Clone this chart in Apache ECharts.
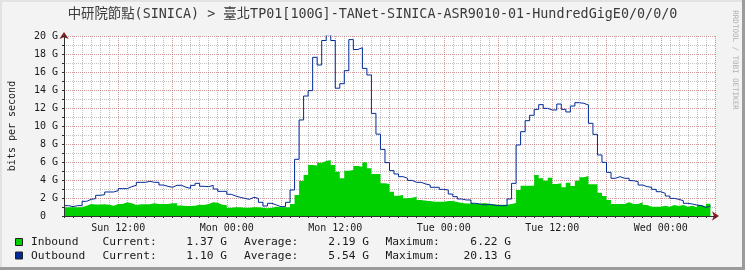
<!DOCTYPE html>
<html>
<head>
<meta charset="utf-8">
<script src="https://cdn.jsdelivr.net/npm/echarts@6/dist/echarts.min.js"></script>
<style>
  html, body { margin: 0; padding: 0; background: #f3f3f3; }
  #chart { width: 745px; height: 270px; }
</style>
</head>
<body>
<div id="chart"></div>
<script>
// time axis in hours counted from Sun 00:00, one sample every 30 minutes
const startHour = 6;
const endHour = 78;
const stepHour = 0.5;

const xTickHours = [12, 24, 36, 48, 60, 72];
const xTickLabels = ['Sun 12:00', 'Mon 00:00', 'Mon 12:00', 'Tue 00:00', 'Tue 12:00', 'Wed 00:00'];

// Gbit/s
const inbound = [
  0.96, 0.96, 0.96, 0.96, 1.15, 1.33, 1.28, 1.28, 1.30, 1.26,
  1.15, 1.33, 1.33, 1.52, 1.41, 1.22, 1.30, 1.30, 1.30, 1.41,
  1.33, 1.33, 1.33, 1.41, 1.41, 1.18, 1.11, 1.11, 1.15, 1.26,
  1.22, 1.33, 1.52, 1.48, 1.26, 1.22, 0.93, 0.96, 0.96, 0.93,
  0.93, 0.96, 0.96, 0.93, 0.85, 0.93, 1.04, 0.96, 0.96, 0.96,
  1.33, 2.33, 3.89, 4.56, 5.67, 5.60, 5.93, 6.11, 6.22, 5.67,
  4.93, 4.19, 5.04, 5.11, 5.56, 5.48, 5.96, 5.30, 4.67, 4.67,
  3.63, 3.56, 2.70, 2.26, 2.33, 1.96, 2.04, 2.15, 1.78, 1.70,
  1.67, 1.59, 1.59, 1.59, 1.67, 1.67, 1.56, 1.45, 1.40, 1.40,
  1.40, 1.35, 1.45, 1.35, 1.30, 1.25, 1.25, 1.25, 1.33, 1.45,
  2.89, 3.37, 3.37, 3.37, 4.56, 4.19, 3.93, 4.26, 3.56, 3.63,
  3.19, 3.70, 3.33, 3.93, 4.30, 4.44, 3.52, 3.52, 2.59, 2.22,
  1.78, 1.33, 1.33, 1.33, 1.52, 1.33, 1.33, 1.52, 1.22, 1.04,
  1.04, 1.04, 1.15, 1.04, 1.22, 1.11, 1.22, 1.04, 1.15, 0.96,
  1.22, 1.04, 1.37
];
const outbound = [
  1.15, 1.04, 1.15, 1.15, 1.63, 1.85, 1.93, 2.30, 2.37, 2.67,
  2.67, 2.81, 3.04, 3.04, 3.26, 3.41, 3.74, 3.74, 3.85, 3.74,
  3.74, 3.44, 3.30, 3.19, 3.41, 3.41, 3.19, 3.07, 3.40, 3.63,
  3.30, 3.26, 3.40, 3.00, 2.74, 2.74, 2.41, 2.22, 2.07, 1.96,
  1.85, 2.07, 1.96, 1.52, 1.11, 1.41, 1.22, 1.04, 1.04, 1.52,
  2.89, 6.30, 10.67, 13.33, 13.93, 17.63, 16.78, 19.50, 20.13, 19.50,
  14.20, 14.70, 16.15, 19.60, 18.50, 18.70, 16.40, 15.67, 11.40, 9.10,
  7.40, 5.93, 5.04, 4.67, 4.37, 4.19, 3.96, 3.74, 3.74, 3.56,
  3.44, 3.19, 3.19, 2.96, 2.89, 2.44, 2.15, 1.89, 1.78, 1.78,
  1.41, 1.33, 1.22, 1.30, 1.22, 1.15, 1.15, 1.15, 1.89, 3.63,
  7.89, 9.37, 10.59, 11.19, 11.85, 12.37, 11.96, 11.78, 11.78, 12.44,
  11.85, 11.56, 12.22, 12.59, 12.52, 12.33, 10.30, 9.07, 6.78, 5.96,
  4.85, 4.19, 4.37, 4.19, 4.19, 3.93, 3.81, 3.44, 3.26, 3.19,
  2.96, 2.70, 2.52, 2.22, 1.96, 1.85, 1.70, 1.41, 1.33, 1.22,
  1.15, 0.96, 1.10
];

const legendRows = [
  { name: 'Inbound', color: '#00CF00', current: '1.37 G', average: '2.19 G', maximum: '6.22 G' },
  { name: 'Outbound', color: '#002A97', current: '1.10 G', average: '5.54 G', maximum: '20.13 G' }
];

const MONO = '"DejaVu Sans Mono", monospace';
const GREY_GRID = 'rgba(120,120,120,0.45)';
const RED_GRID = 'rgba(230,92,92,0.4)';
const AXIS_COLOR = '#303030';
const ARROW_COLOR = '#8a1c1c';

// each sample holds its value until the next one (rrdtool style steps)
function toSteps(values) {
  const pts = values.map((v, i) => [startHour + i * stepHour, v]);
  pts.push([startHour + values.length * stepHour, values[values.length - 1]]);
  return pts;
}

const chart = echarts.init(document.getElementById('chart'), null, { renderer: 'canvas' });

const baseX = { type: 'value', min: startHour, max: endHour, position: 'bottom', gridIndex: 0 };
const baseY = { type: 'value', min: 0, max: 20, position: 'left', gridIndex: 0 };
const off = { show: false };

const legendGraphics = [];
legendRows.forEach((row, i) => {
  const cy = 242.5 + i * 13.5;
  const font = '11.25px ' + MONO;
  legendGraphics.push(
    { type: 'rect', shape: { x: 15.5, y: cy - 4, width: 7, height: 7 }, style: { fill: row.color, stroke: '#222', lineWidth: 1 } },
    { type: 'text', x: 31, y: cy, style: { text: row.name, font, fill: '#1a1a1a', verticalAlign: 'middle' } },
    { type: 'text', x: 102.5, y: cy, style: { text: 'Current:', font, fill: '#1a1a1a', verticalAlign: 'middle' } },
    { type: 'text', x: 227, y: cy, style: { text: row.current, font, fill: '#1a1a1a', align: 'right', verticalAlign: 'middle' } },
    { type: 'text', x: 244, y: cy, style: { text: 'Average:', font, fill: '#1a1a1a', verticalAlign: 'middle' } },
    { type: 'text', x: 369, y: cy, style: { text: row.average, font, fill: '#1a1a1a', align: 'right', verticalAlign: 'middle' } },
    { type: 'text', x: 385.5, y: cy, style: { text: 'Maximum:', font, fill: '#1a1a1a', verticalAlign: 'middle' } },
    { type: 'text', x: 511, y: cy, style: { text: row.maximum, font, fill: '#1a1a1a', align: 'right', verticalAlign: 'middle' } }
  );
});

const option = {
  animation: false,
  backgroundColor: '#f3f3f3',
  grid: {
    left: 64, top: 36, width: 651, height: 180,
    show: true, backgroundColor: '#ffffff', borderWidth: 0
  },
  xAxis: [
    // minor grid, 1 hour
    Object.assign({}, baseX, {
      interval: 1, z: 0,
      axisLine: off, axisTick: off, axisLabel: off,
      splitLine: { show: true, lineStyle: { color: GREY_GRID, width: 1, type: 'dotted' } }
    }),
    // major grid, 6 hours, labels every 12 hours
    Object.assign({}, baseX, {
      interval: 6, z: 0,
      axisLine: off, axisTick: off,
      axisLabel: {
        show: true, margin: 7, fontFamily: MONO, fontSize: 10, color: '#1a1a1a',
        showMinLabel: true, showMaxLabel: true,
        formatter: v => {
          const idx = xTickHours.indexOf(v);
          return idx >= 0 ? xTickLabels[idx] : '';
        }
      },
      splitLine: { show: true, lineStyle: { color: RED_GRID, width: 1, type: 'dotted' } }
    }),
    // arrow head
    Object.assign({}, baseX, {
      z: 9, axisTick: off, axisLabel: off, splitLine: off,
      axisLine: { show: true, onZero: false, symbol: ['none', 'arrow'], symbolSize: [7, 7], symbolOffset: [0, 4],
        lineStyle: { color: ARROW_COLOR, width: 1 } }
    }),
    // axis line with small ticks
    Object.assign({}, baseX, {
      interval: 1, z: 10, axisLabel: off, splitLine: off,
      axisLine: { show: true, onZero: false, lineStyle: { color: AXIS_COLOR, width: 1 } },
      axisTick: { show: true, length: 2, lineStyle: { color: AXIS_COLOR } }
    })
  ],
  yAxis: [
    Object.assign({}, baseY, {
      interval: 1, z: 0,
      axisLine: off, axisTick: off, axisLabel: off,
      splitLine: { show: true, lineStyle: { color: GREY_GRID, width: 1, type: 'dotted' } }
    }),
    Object.assign({}, baseY, {
      interval: 2, z: 0,
      axisLine: off, axisTick: off,
      axisLabel: {
        show: true, margin: 6, fontFamily: MONO, fontSize: 10, color: '#1a1a1a',
        formatter: v => (v === 0 ? '0  ' : v + ' G')
      },
      splitLine: { show: true, lineStyle: { color: RED_GRID, width: 1, type: 'dotted' } }
    }),
    Object.assign({}, baseY, {
      z: 9, axisTick: off, axisLabel: off, splitLine: off,
      axisLine: { show: true, onZero: false, symbol: ['none', 'arrow'], symbolSize: [7, 7], symbolOffset: [0, 4],
        lineStyle: { color: ARROW_COLOR, width: 1 } }
    }),
    Object.assign({}, baseY, {
      interval: 1, z: 10, axisLabel: off, splitLine: off,
      axisLine: { show: true, onZero: false, lineStyle: { color: AXIS_COLOR, width: 1 } },
      axisTick: { show: true, length: 2, lineStyle: { color: AXIS_COLOR } }
    })
  ],
  series: [
    {
      name: 'Inbound', type: 'line', step: 'end', symbol: 'none',
      data: toSteps(inbound),
      lineStyle: { width: 0 },
      itemStyle: { color: '#00CF00' },
      areaStyle: { color: '#00CF00', opacity: 1 },
      z: 2
    },
    {
      name: 'Outbound', type: 'line', step: 'end', symbol: 'none',
      data: toSteps(outbound),
      lineStyle: { width: 1, color: '#002A97' },
      itemStyle: { color: '#002A97' },
      z: 3
    }
  ],
  graphic: [
    // frame shading
    { type: 'rect', shape: { x: 0, y: 0, width: 745, height: 2 }, style: { fill: '#e2e2e2' }, z: 100 },
    { type: 'rect', shape: { x: 0, y: 0, width: 2, height: 270 }, style: { fill: '#e2e2e2' }, z: 100 },
    { type: 'rect', shape: { x: 742, y: 0, width: 3, height: 270 }, style: { fill: '#9b9b9b' }, z: 101 },
    { type: 'rect', shape: { x: 0, y: 267, width: 745, height: 3 }, style: { fill: '#9b9b9b' }, z: 101 },
    {
      type: 'text', x: 372.5, y: 15,
      style: {
        text: '中研院節點(SINICA) > 臺北TP01[100G]-TANet-SINICA-ASR9010-01-HundredGigE0/0/0/0',
        font: '13.4px "DejaVu Sans Mono", "Noto Sans CJK TC", monospace',
        fill: '#3a3a3a', align: 'center', verticalAlign: 'middle'
      }
    },
    {
      type: 'text', x: 12, y: 126, rotation: Math.PI / 2,
      style: { text: 'bits per second', font: '10px ' + MONO, fill: '#1a1a1a', align: 'center', verticalAlign: 'middle' }
    },
    {
      type: 'text', x: 735, y: 60, rotation: -Math.PI / 2,
      style: { text: 'RRDTOOL / TOBI OETIKER', font: '7.5px ' + MONO, fill: '#b0b0b0', align: 'center', verticalAlign: 'middle' }
    }
  ].concat(legendGraphics)
};

chart.setOption(option);
</script>
</body>
</html>
